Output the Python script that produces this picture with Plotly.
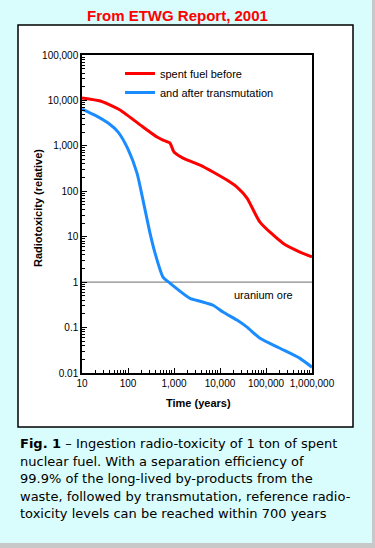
import plotly.graph_objects as go

# ---- data ----
time_before = [10, 25, 37, 67, 212, 427, 577, 818, 1000, 1570, 3680, 7050,
               16500, 23400, 38700, 74000, 234000, 548000, 1000000]
tox_before = [11300, 9700, 8300, 6150, 2600, 1560, 1340, 1150, 730, 538, 377, 265,
              160, 124, 71, 21, 7.2, 4.6, 3.6]

time_after = [10, 19, 37, 61, 100, 157, 212, 301, 386, 577, 818, 2230, 3680, 7050,
              11600, 23400, 38700, 74000, 201000, 548000, 1000000]
tox_after = [6470, 4760, 3180, 2010, 850, 251, 64, 12, 4.4, 1.29, 0.95, 0.44, 0.38, 0.31,
             0.22, 0.146, 0.102, 0.058, 0.035, 0.021, 0.0134]

uranium_ore_level = 1

x_tickvals = [10, 100, 1000, 10000, 100000, 1000000]
x_ticktext = ["10", "100", "1,000", "10,000", "100,000", "1,000,000"]
y_tickvals = [0.01, 0.1, 1, 10, 100, 1000, 10000, 100000]
y_ticktext = ["0.01", "0.1", "1", "10", "100", "1,000", "10,000", "100,000"]

series_names = ["spent fuel before", "and after transmutation"]
title_text = "From ETWG Report, 2001"
caption_lines = [
    "<b>Fig. 1</b> – Ingestion radio-toxicity of 1 ton of spent",
    "nuclear fuel. With a separation efficiency of",
    "99.9% of the long-lived by-products from the",
    "waste, followed by transmutation, reference radio-",
    "toxicity levels can be reached within 700 years",
]

W, H = 375, 548
L, R, T, B = 82, 63, 55, 175
pw, ph = W - L - R, H - T - B


def px(x):
    return (x - L) / pw


def py(y):
    return (H - B - y) / ph


fig = go.Figure()
fig.add_trace(go.Scatter(x=[10, 1000000], y=[uranium_ore_level] * 2, mode="lines",
                         line=dict(color="#8a8a8a", width=1.2), showlegend=False,
                         hoverinfo="skip"))
fig.add_trace(go.Scatter(x=time_before, y=tox_before, mode="lines", name=series_names[0],
                         line=dict(color="#ff0000", width=3, shape="spline", smoothing=0.6)))
fig.add_trace(go.Scatter(x=time_after, y=tox_after, mode="lines", name=series_names[1],
                         line=dict(color="#1a8cff", width=3, shape="spline", smoothing=0.6)))

shapes = [
    # gray page edges
    dict(type="rect", xref="paper", yref="paper", x0=px(372), x1=px(380), y0=py(560), y1=py(-5),
         fillcolor="#c8c8c8", line=dict(width=0), layer="below"),
    dict(type="rect", xref="paper", yref="paper", x0=px(-5), x1=px(380), y0=py(560), y1=py(543),
         fillcolor="#c8c8c8", line=dict(width=0), layer="below"),
    # white panel
    dict(type="rect", xref="paper", yref="paper", x0=px(18), x1=px(353), y0=py(427), y1=py(25),
         fillcolor="white", line=dict(color="black", width=1.5), layer="below"),
]

annotations = [
    dict(text="<b>" + title_text + "</b>", xref="paper", yref="paper", x=px(177), y=py(15),
         showarrow=False, font=dict(family="Arial, Liberation Sans", size=15, color="#ff0000"),
         xanchor="center", yanchor="middle"),
    dict(text="<b>Radiotoxicity (relative)</b>", xref="paper", yref="paper", x=px(38), y=py(208),
         showarrow=False, textangle=-90, font=dict(family="Arial, Liberation Sans", size=11, color="black"),
         xanchor="center", yanchor="middle"),
    dict(text="<b>Time (years)</b>", xref="paper", yref="paper", x=px(198), y=py(403),
         showarrow=False, font=dict(family="Arial, Liberation Sans", size=11, color="black"),
         xanchor="center", yanchor="middle"),
    dict(text="uranium ore", x=4.935, y=-0.286, xref="x", yref="y", showarrow=False,
         font=dict(family="Arial, Liberation Sans", size=11, color="black"),
         xanchor="center", yanchor="middle"),
]
caption_y = [443, 461, 478.5, 496, 513.5]
for line, yy in zip(caption_lines, caption_y):
    annotations.append(dict(text=line, xref="paper", yref="paper", x=px(18), y=py(yy),
                            showarrow=False, align="left", xanchor="left", yanchor="middle",
                            font=dict(family="DejaVu Sans", size=13, color="black")))

fig.update_layout(
    width=W, height=H,
    margin=dict(l=L, r=R, t=T, b=B, autoexpand=False),
    paper_bgcolor="#d9fcfc",
    plot_bgcolor="white",
    shapes=shapes,
    annotations=annotations,
    showlegend=True,
    legend=dict(x=px(120), y=py(59), xanchor="left", yanchor="top", bgcolor="rgba(0,0,0,0)",
                font=dict(family="Arial, Liberation Sans", size=11, color="black"),
                itemwidth=30, tracegroupgap=0),
    xaxis=dict(type="log", range=[1, 6], tickvals=x_tickvals, ticktext=x_ticktext,
               ticks="inside", ticklen=5, tickcolor="black", showgrid=False, zeroline=False,
               showline=True, linecolor="black", linewidth=1.5, mirror=True,
               tickfont=dict(family="Arial, Liberation Sans", size=10, color="black"),
               minor=dict(ticks="inside", ticklen=3, tickcolor="black", dtick="D1", showgrid=False)),
    yaxis=dict(type="log", range=[-2, 5], tickvals=y_tickvals, ticktext=y_ticktext,
               ticks="inside", ticklen=5, tickcolor="black", showgrid=False, zeroline=False,
               showline=True, linecolor="black", linewidth=1.5, mirror=True,
               tickfont=dict(family="Arial, Liberation Sans", size=10, color="black"),
               minor=dict(ticks="inside", ticklen=3, tickcolor="black", dtick="D1", showgrid=False)),
)

fig.write_html("out.html", config={"displayModeBar": False},
               post_script="document.body.style.margin='0';")
